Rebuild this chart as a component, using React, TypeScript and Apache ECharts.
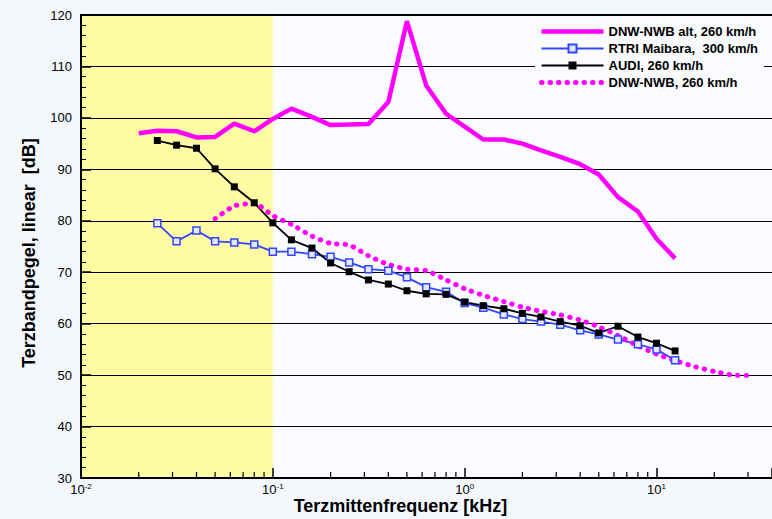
import React, { useEffect, useRef } from "react";
import * as echarts from "echarts";

// Third-octave centre frequencies [kHz]
const freqAlt = [0.02, 0.025, 0.0315, 0.04, 0.05, 0.063, 0.08, 0.1, 0.125, 0.16, 0.2, 0.25, 0.315, 0.4, 0.5, 0.63, 0.8, 1, 1.25, 1.6, 2, 2.5, 3.15, 4, 5, 6.3, 8, 10, 12.5];
const levelAlt = [97.0, 97.5, 97.4, 96.2, 96.3, 98.9, 97.4, 99.8, 101.8, 100.2, 98.6, 98.7, 98.8, 103.1, 118.8, 106.3, 100.8, 98.3, 95.8, 95.8, 95.0, 93.7, 92.4, 91.0, 89.0, 84.6, 81.8, 76.5, 72.7];

const freqMeas = [0.025, 0.0315, 0.04, 0.05, 0.063, 0.08, 0.1, 0.125, 0.16, 0.2, 0.25, 0.315, 0.4, 0.5, 0.63, 0.8, 1, 1.25, 1.6, 2, 2.5, 3.15, 4, 5, 6.3, 8, 10, 12.5];
const levelRtri = [79.5, 76.0, 78.1, 76.0, 75.8, 75.4, 74.0, 74.0, 73.5, 73.0, 71.9, 70.6, 70.3, 69.0, 67.1, 66.2, 64.0, 63.1, 61.8, 60.9, 60.4, 59.8, 58.7, 57.9, 56.9, 56.0, 55.0, 52.9];
const levelAudi = [95.6, 94.7, 94.1, 90.1, 86.6, 83.5, 79.6, 76.3, 74.7, 71.8, 70.1, 68.5, 67.7, 66.4, 65.8, 65.7, 64.2, 63.5, 62.9, 62.0, 61.3, 60.4, 59.6, 58.2, 59.5, 57.4, 56.2, 54.7];

const freqDnw = [0.05, 0.063, 0.08, 0.1, 0.125, 0.16, 0.2, 0.25, 0.315, 0.4, 0.5, 0.63, 0.8, 1, 1.25, 1.6, 2, 2.5, 3.15, 4, 5, 6.3, 8, 10, 12.5, 16, 20, 25, 31.5];
const levelDnw = [80.4, 82.9, 83.4, 81.0, 79.3, 77.0, 75.6, 75.3, 73.2, 71.5, 70.6, 70.3, 68.5, 66.8, 65.5, 64.3, 63.2, 62.4, 61.7, 60.7, 59.4, 57.7, 55.7, 54.1, 52.8, 51.6, 50.7, 50.0, 49.9];

const seriesNames = ["DNW-NWB alt, 260 km/h", "RTRI Maibara,  300 km/h", "AUDI, 260 km/h", "DNW-NWB, 260 km/h"];

// Axis settings
const xMin = 0.01;
const xMax = 40;
const yMin = 30;
const yMax = 120;
const yStep = 10;
const decades = [0.01, 0.1, 1, 10];
const minorMultipliers = [2, 3, 4, 5, 6, 7, 8, 9];
const yellowBand = [0.01, 0.1];

const FONT = "'Liberation Sans', Arial, sans-serif";

const pairs = (xs: number[], ys: number[]) => xs.map((x, i) => [x, ys[i]]);

const noSymbol = { color: "rgba(0,0,0,0)", borderWidth: 0, opacity: 0 };

export default function App() {
  const ref = useRef<HTMLDivElement>(null);

  useEffect(() => {
    if (!ref.current) return;
    const chart = echarts.init(ref.current, undefined, { renderer: "svg" });

    const minorTicks: number[][] = [];
    decades.forEach((d) => {
      minorMultipliers.forEach((m) => {
        const v = d * m;
        if (v < xMax) minorTicks.push([v, yMin]);
      });
    });

    const option: any = {
      animation: false,
      backgroundColor: "#F4F8FC",
      textStyle: { fontFamily: FONT },
      grid: {
        left: 81,
        right: 0,
        top: 15,
        bottom: 41,
        containLabel: false,
        outerBoundsMode: "none",
        show: true,
        backgroundColor: "#F9FBFF",
        borderWidth: 0,
      },
      legend: {
        orient: "vertical",
        left: 535,
        top: 22,
        padding: [3, 6, 3, 4],
        backgroundColor: "#F9FBFF",
        itemWidth: 62,
        itemHeight: 10,
        itemGap: 4,
        textStyle: { fontFamily: FONT, fontSize: 13, fontWeight: "bold", color: "#000" },
        data: [
          { name: seriesNames[0], lineStyle: { width: 4.5 }, itemStyle: noSymbol },
          { name: seriesNames[1], lineStyle: { width: 1.8 } },
          { name: seriesNames[2], lineStyle: { width: 1.8 } },
          { name: seriesNames[3], lineStyle: { width: 5 }, itemStyle: noSymbol },
        ],
      },
      xAxis: [
        {
          type: "log",
          logBase: 10,
          min: xMin,
          max: xMax,
          z: 1,
          name: "Terzmittenfrequenz [kHz]",
          nameLocation: "middle",
          nameGap: 19,
          nameMoveOverlap: false,
          nameTextStyle: {
            fontFamily: FONT,
            fontSize: 18,
            fontWeight: "bold",
            color: "#000",
            padding: [0, 52, 0, 0],
          },
          axisLine: { show: true, onZero: false, lineStyle: { color: "#000", width: 2 } },
          axisTick: { show: true, inside: true, length: 10, lineStyle: { color: "#000", width: 1.5 } },
          splitLine: { show: false },
          axisLabel: {
            margin: 4,
            color: "#000",
            formatter: (v: number) => {
              const e = Math.log10(v);
              const r = Math.round(e);
              if (Math.abs(e - r) > 1e-6) return "";
              return `{b|10}{s|${r}}`;
            },
            rich: {
              b: { fontFamily: FONT, fontSize: 13, lineHeight: 14, color: "#000" },
              s: { fontFamily: FONT, fontSize: 8, lineHeight: 8, verticalAlign: "top", color: "#000" },
            },
          },
        },
        {
          type: "log",
          logBase: 10,
          min: xMin,
          max: xMax,
          position: "top",
          z: 1,
          axisLine: { show: true, onZero: false, lineStyle: { color: "#000", width: 2 } },
          axisTick: { show: false },
          axisLabel: { show: false },
          splitLine: { show: false },
        },
      ],
      yAxis: {
        type: "value",
        min: yMin,
        max: yMax,
        interval: yStep,
        z: 1,
        name: "Terzbandpegel, linear  [dB]",
        nameLocation: "middle",
        nameGap: 43,
        nameMoveOverlap: false,
        nameTextStyle: {
          fontFamily: FONT,
          fontSize: 18,
          fontWeight: "bold",
          color: "#000",
          padding: [0, 13, 0, 0],
        },
        axisLine: { show: true, lineStyle: { color: "#000", width: 2 } },
        axisTick: { show: true, inside: true, length: 10, lineStyle: { color: "#000", width: 1.5 } },
        minorTick: { show: true, splitNumber: 5, length: 5, lineStyle: { color: "#000", width: 1 } },
        splitLine: { show: true, lineStyle: { color: "#000", width: 1 } },
        axisLabel: { fontFamily: FONT, fontSize: 13, color: "#000", margin: 9 },
      },
      series: [
        {
          type: "custom",
          name: "band",
          z: 0,
          silent: true,
          clip: false,
          encode: { x: [0, 2], y: [1, 3] },
          data: [[yellowBand[0], yMin, yellowBand[1], yMax]],
          renderItem: (params: any, api: any) => {
            const a = api.coord([api.value(0), api.value(3)]);
            const b = api.coord([api.value(2), api.value(1)]);
            return {
              type: "rect",
              shape: { x: a[0], y: a[1], width: b[0] - a[0], height: b[1] - a[1] },
              style: { fill: "#FFFBA3" },
            };
          },
        },
        {
          type: "custom",
          name: "minorTicks",
          z: 3,
          silent: true,
          clip: false,
          encode: { x: 0, y: 1 },
          data: minorTicks,
          renderItem: (params: any, api: any) => {
            const p = api.coord([api.value(0), api.value(1)]);
            return {
              type: "line",
              shape: { x1: p[0], y1: p[1], x2: p[0], y2: p[1] - 6 },
              style: { stroke: "#000", lineWidth: 1.2 },
            };
          },
        },
        {
          name: seriesNames[0],
          type: "line",
          z: 2,
          data: pairs(freqAlt, levelAlt),
          symbol: "none",
          lineStyle: { color: "#FF00FF", width: 4.5 },
          itemStyle: { color: "#FF00FF" },
        },
        {
          name: seriesNames[1],
          type: "line",
          z: 2,
          data: pairs(freqMeas, levelRtri),
          symbol: "rect",
          symbolSize: 7,
          lineStyle: { color: "#3346FF", width: 1.8 },
          itemStyle: { color: "#E4E8FF", borderColor: "#3346FF", borderWidth: 1.5 },
        },
        {
          name: seriesNames[2],
          type: "line",
          z: 2,
          data: pairs(freqMeas, levelAudi),
          symbol: "rect",
          symbolSize: 7,
          lineStyle: { color: "#000", width: 1.8 },
          itemStyle: { color: "#000" },
        },
        {
          name: seriesNames[3],
          type: "line",
          z: 2,
          data: pairs(freqDnw, levelDnw),
          symbol: "none",
          smooth: 0.2,
          lineStyle: { color: "#FF00FF", width: 5, type: [0.5, 8], cap: "round" },
          itemStyle: { color: "#FF00FF" },
        },
      ],
    };

    chart.setOption(option);
    return () => chart.dispose();
  }, []);

  return (
    <div style={{ position: "absolute", left: 0, top: 0, width: 772, height: 519 }}>
      <div ref={ref} style={{ width: 772, height: 519 }} />
    </div>
  );
}
